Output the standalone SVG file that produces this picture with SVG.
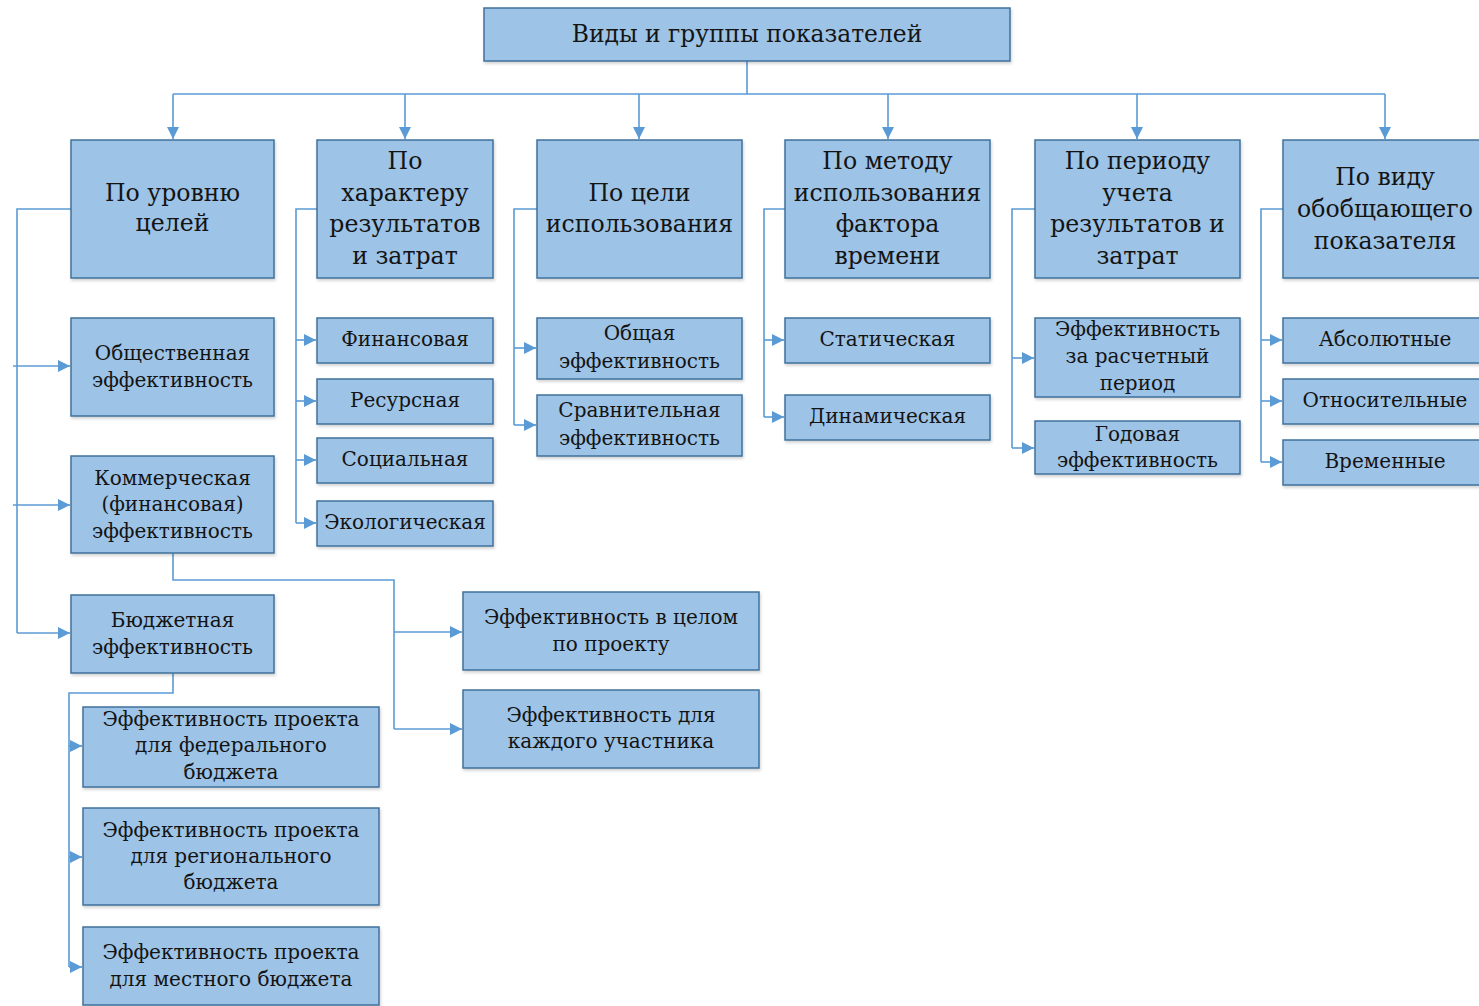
<svg xmlns="http://www.w3.org/2000/svg" width="1479" height="1006" viewBox="0 0 1479 1006">
<defs>
<marker id="ah" viewBox="0 0 10 10" refX="10" refY="5" markerWidth="12" markerHeight="12" markerUnits="userSpaceOnUse" orient="auto">
<path d="M0,0 L10,5 L0,10 z" fill="#5B9BD5"/>
</marker>
<filter id="sh" x="-5%" y="-5%" width="115%" height="120%">
<feDropShadow dx="1" dy="2" stdDeviation="1.5" flood-color="#000" flood-opacity="0.18"/>
</filter>
</defs>
<style>
.b{fill:#9DC3E6;stroke:#41719C;stroke-width:1.5;filter:url(#sh)}
.c{fill:none;stroke:#5B9BD5;stroke-width:1.6}
.a{marker-end:url(#ah)}
text{font-family:"DejaVu Serif","Liberation Serif",serif;fill:#141414;text-anchor:middle}
.h{font-size:23.6px}
.t{font-size:20px}
.top{font-size:23.4px}
</style>
<rect width="1479" height="1006" fill="#fff"/>

<g id="connectors">
<path class="c" d="M747,61 V94 M173,94 H1385"/>
<path class="c a" d="M173,94 V139"/>
<path class="c a" d="M405,94 V139"/>
<path class="c a" d="M639,94 V139"/>
<path class="c a" d="M888,94 V139"/>
<path class="c a" d="M1137,94 V139"/>
<path class="c a" d="M1385,94 V139"/>
<path class="c" d="M71,209 H17 V633"/>
<path class="c a" d="M13,366 H70"/>
<path class="c a" d="M13,505 H70"/>
<path class="c a" d="M17,633 H70"/>
<path class="c" d="M173,553 V580 H394 V729"/>
<path class="c a" d="M394,632 H462"/>
<path class="c a" d="M394,729 H462"/>
<path class="c" d="M173,673 V693 H69 V967"/>
<path class="c a" d="M69,746 H82"/>
<path class="c a" d="M69,857 H82"/>
<path class="c a" d="M69,967 H82"/>
<path class="c" d="M317,209 H296 V523"/>
<path class="c a" d="M296,340 H316"/>
<path class="c a" d="M296,401 H316"/>
<path class="c a" d="M296,460 H316"/>
<path class="c a" d="M296,523 H316"/>
<path class="c" d="M537,209 H514 V425"/>
<path class="c a" d="M514,348 H536"/>
<path class="c a" d="M514,425 H536"/>
<path class="c" d="M785,209 H764 V417"/>
<path class="c a" d="M764,340 H784"/>
<path class="c a" d="M764,417 H784"/>
<path class="c" d="M1035,209 H1012 V448"/>
<path class="c a" d="M1012,358 H1034"/>
<path class="c a" d="M1012,448 H1034"/>
<path class="c" d="M1283,209 H1261 V462"/>
<path class="c a" d="M1261,340 H1282"/>
<path class="c a" d="M1261,401 H1282"/>
<path class="c a" d="M1261,462 H1282"/>
</g>

<g id="root"><rect class="b" x="484" y="8" width="526" height="53"/><text class="top" x="747" y="42">Виды и группы показателей</text></g>

<g id="h1"><rect class="b" x="71" y="140" width="203" height="138"/><text class="h" x="172.5" y="201">По уровню</text><text class="h" x="172.5" y="231">целей</text></g>
<g id="h2"><rect class="b" x="317" y="140" width="176" height="138"/><text class="h" x="405" y="169">По</text><text class="h" x="405" y="201">характеру</text><text class="h" x="405" y="232">результатов</text><text class="h" x="405" y="264">и затрат</text></g>
<g id="h3"><rect class="b" x="537" y="140" width="205" height="138"/><text class="h" x="639.5" y="201">По цели</text><text class="h" x="639.5" y="232">использования</text></g>
<g id="h4"><rect class="b" x="785" y="140" width="205" height="138"/><text class="h" x="887.5" y="169">По методу</text><text class="h" x="887.5" y="201">использования</text><text class="h" x="887.5" y="232">фактора</text><text class="h" x="887.5" y="264">времени</text></g>
<g id="h5"><rect class="b" x="1035" y="140" width="205" height="138"/><text class="h" x="1137.5" y="169">По периоду</text><text class="h" x="1137.5" y="201">учета</text><text class="h" x="1137.5" y="232">результатов и</text><text class="h" x="1137.5" y="264">затрат</text></g>
<g id="h6"><rect class="b" x="1283" y="140" width="210" height="138"/><text class="h" x="1385" y="185">По виду</text><text class="h" x="1385" y="217">обобщающего</text><text class="h" x="1385" y="249">показателя</text></g>

<g id="n-obshch"><rect class="b" x="71" y="318" width="203" height="98"/><text class="t" x="172.5" y="360">Общественная</text><text class="t" x="172.5" y="387">эффективность</text></g>
<g id="n-komm"><rect class="b" x="71" y="456" width="203" height="97"/><text class="t" x="172.5" y="485">Коммерческая</text><text class="t" x="172.5" y="511">(финансовая)</text><text class="t" x="172.5" y="538">эффективность</text></g>
<g id="n-budzh"><rect class="b" x="71" y="595" width="203" height="78"/><text class="t" x="172.5" y="627">Бюджетная</text><text class="t" x="172.5" y="654">эффективность</text></g>

<g id="n-celom"><rect class="b" x="463" y="592" width="296" height="78"/><text class="t" x="611" y="624">Эффективность в целом</text><text class="t" x="611" y="651">по проекту</text></g>
<g id="n-kazhd"><rect class="b" x="463" y="690" width="296" height="78"/><text class="t" x="611" y="722">Эффективность для</text><text class="t" x="611" y="748">каждого участника</text></g>

<g id="n-fed"><rect class="b" x="83" y="707" width="296" height="80"/><text class="t" x="231" y="726">Эффективность проекта</text><text class="t" x="231" y="752">для федерального</text><text class="t" x="231" y="779">бюджета</text></g>
<g id="n-reg"><rect class="b" x="83" y="808" width="296" height="97"/><text class="t" x="231" y="837">Эффективность проекта</text><text class="t" x="231" y="863">для регионального</text><text class="t" x="231" y="889">бюджета</text></g>
<g id="n-mest"><rect class="b" x="83" y="927" width="296" height="78"/><text class="t" x="231" y="959">Эффективность проекта</text><text class="t" x="231" y="986">для местного бюджета</text></g>

<g id="n-fin"><rect class="b" x="317" y="318" width="176" height="45"/><text class="t" x="405" y="346">Финансовая</text></g>
<g id="n-res"><rect class="b" x="317" y="379" width="176" height="45"/><text class="t" x="405" y="407">Ресурсная</text></g>
<g id="n-soc"><rect class="b" x="317" y="438" width="176" height="45"/><text class="t" x="405" y="466">Социальная</text></g>
<g id="n-eko"><rect class="b" x="317" y="501" width="176" height="45"/><text class="t" x="405" y="529">Экологическая</text></g>

<g id="n-obsh-ef"><rect class="b" x="537" y="318" width="205" height="61"/><text class="t" x="639.5" y="340">Общая</text><text class="t" x="639.5" y="368">эффективность</text></g>
<g id="n-sravn"><rect class="b" x="537" y="395" width="205" height="61"/><text class="t" x="639.5" y="417">Сравнительная</text><text class="t" x="639.5" y="445">эффективность</text></g>

<g id="n-stat"><rect class="b" x="785" y="318" width="205" height="45"/><text class="t" x="887.5" y="346">Статическая</text></g>
<g id="n-din"><rect class="b" x="785" y="395" width="205" height="45"/><text class="t" x="887.5" y="423">Динамическая</text></g>

<g id="n-rasch"><rect class="b" x="1035" y="318" width="205" height="79"/><text class="t" x="1137.5" y="336">Эффективность</text><text class="t" x="1137.5" y="363">за расчетный</text><text class="t" x="1137.5" y="390">период</text></g>
<g id="n-god"><rect class="b" x="1035" y="421" width="205" height="53"/><text class="t" x="1137.5" y="441">Годовая</text><text class="t" x="1137.5" y="467">эффективность</text></g>

<g id="n-abs"><rect class="b" x="1283" y="318" width="210" height="45"/><text class="t" x="1385" y="346">Абсолютные</text></g>
<g id="n-otn"><rect class="b" x="1283" y="379" width="210" height="45"/><text class="t" x="1385" y="407">Относительные</text></g>
<g id="n-vrem"><rect class="b" x="1283" y="440" width="210" height="45"/><text class="t" x="1385" y="468">Временные</text></g>
</svg>
